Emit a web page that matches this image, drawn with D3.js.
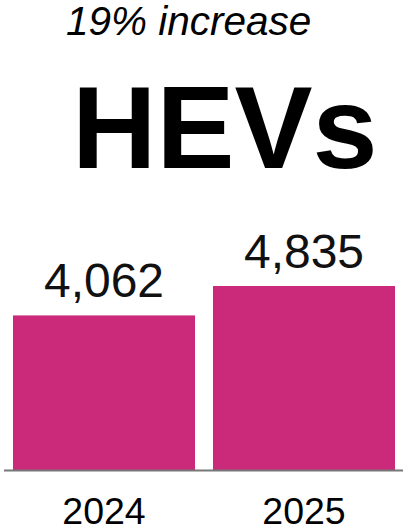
<!DOCTYPE html>
<html>
<head>
<meta charset="utf-8">
<script src="https://cdn.jsdelivr.net/npm/d3@7/dist/d3.min.js"></script>
<style>
  html, body { margin: 0; padding: 0; background: #fff; }
  svg { display: block; }
  text { font-family: "Liberation Sans", Arial, Helvetica, sans-serif; }
</style>
</head>
<body>
<svg id="chart" width="403" height="529"></svg>
<script>
const years = ["2024", "2025"];
const values = [4062, 4835];
const subtitle = "19% increase";
const title = "HEVs";
const barColor = "#CB2A7B";

const svg = d3.select("#chart");

const x = d3.scaleBand().domain(years).range([4, 404]).paddingInner(0.09).paddingOuter(0.045);
const y = d3.scaleLinear().domain([0, 4835]).range([470, 286]);

svg.append("text")
  .attr("x", 66).attr("y", 35)
  .attr("font-size", 40.5).attr("font-style", "italic")
  .attr("fill", "#000")
  .text(subtitle);

svg.append("text")
  .attr("x", 72).attr("y", 168)
  .attr("font-size", 117).attr("font-weight", "bold")
  .attr("fill", "#000")
  .text(title);

const data = years.map((yr, i) => ({ year: yr, value: values[i] }));

svg.selectAll("rect.bar").data(data).join("rect")
  .attr("class", "bar")
  .attr("x", d => x(d.year))
  .attr("width", x.bandwidth())
  .attr("y", d => y(d.value))
  .attr("height", d => y(0) - y(d.value))
  .attr("fill", barColor);

svg.append("line")
  .attr("x1", 4).attr("x2", 403)
  .attr("y1", y(0) + 0.5).attr("y2", y(0) + 0.5)
  .attr("stroke", "#777").attr("stroke-width", 2);

svg.selectAll("text.val").data(data).join("text")
  .attr("class", "val")
  .attr("x", d => x(d.year) + x.bandwidth() / 2)
  .attr("y", d => y(d.value) - 18)
  .attr("text-anchor", "middle")
  .attr("font-size", 48)
  .attr("fill", "#111")
  .text(d => d3.format(",")(d.value));

svg.selectAll("text.year").data(data).join("text")
  .attr("class", "year")
  .attr("x", d => x(d.year) + x.bandwidth() / 2)
  .attr("y", 524)
  .attr("text-anchor", "middle")
  .attr("font-size", 37.5)
  .attr("fill", "#000")
  .text(d => d.year);
</script>
</body>
</html>
